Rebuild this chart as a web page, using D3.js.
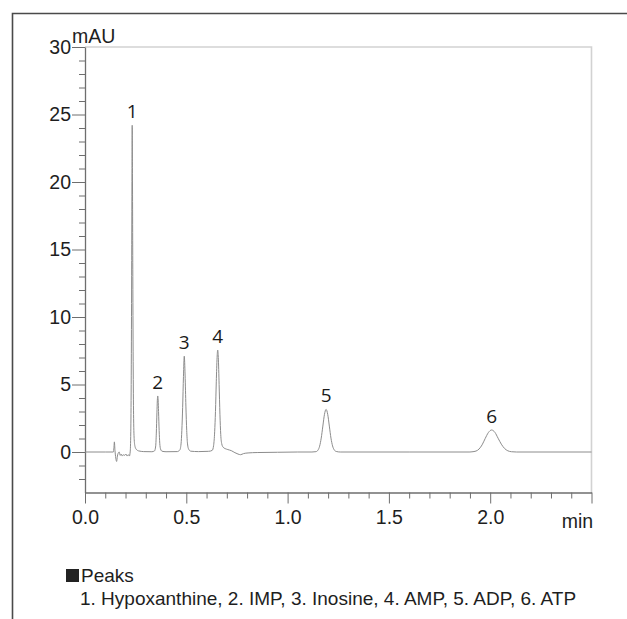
<!DOCTYPE html>
<html>
<head>
<meta charset="utf-8">
<script src="https://cdn.jsdelivr.net/npm/d3@7"></script>
<style>
  html, body { margin: 0; padding: 0; background: #fff; }
  svg { display: block; }
</style>
</head>
<body>
<svg id="chart" width="627" height="619"></svg>
<script>
// Chromatogram trace: [retention time (min), absorbance (mAU)]
const trace = [
  [0.000, 0.00], [0.100, 0.00], [0.140, 0.00], [0.143, 0.35], [0.145, 0.75],
  [0.148, 0.10], [0.152, -0.45], [0.156, -0.70], [0.160, -0.30], [0.165, -0.05],
  [0.169, 0.00], [0.174, -0.25], [0.179, -0.15], [0.184, -0.30], [0.190, -0.20],
  [0.196, -0.25], [0.202, -0.15], [0.208, -0.30], [0.214, -0.20], [0.219, -0.30],
  [0.223, 0.00], [0.226, 1.50], [0.228, 5.00], [0.230, 12.0], [0.232, 21.0],
  [0.233, 24.2], [0.234, 21.5], [0.236, 13.0], [0.238, 6.00], [0.240, 2.50],
  [0.243, 0.90], [0.247, 0.40], [0.253, 0.20], [0.265, 0.08], [0.290, 0.03],
  [0.330, 0.02], [0.343, 0.08], [0.349, 0.45], [0.352, 1.40], [0.355, 2.90],
  [0.357, 3.80], [0.359, 4.15], [0.361, 3.85], [0.363, 3.00], [0.366, 1.60],
  [0.369, 0.65], [0.373, 0.22], [0.380, 0.06], [0.400, 0.02], [0.455, 0.03],
  [0.468, 0.15], [0.474, 0.60], [0.478, 1.60], [0.482, 3.30], [0.486, 5.60],
  [0.490, 7.10], [0.494, 5.70], [0.498, 3.40], [0.502, 1.60], [0.506, 0.60],
  [0.512, 0.20], [0.522, 0.06], [0.560, 0.03], [0.610, 0.05], [0.628, 0.12],
  [0.635, 0.50], [0.640, 1.50], [0.644, 3.00], [0.648, 5.20], [0.652, 7.00],
  [0.655, 7.55], [0.658, 7.00], [0.662, 5.00], [0.666, 2.80], [0.670, 1.30],
  [0.675, 0.60], [0.682, 0.35], [0.692, 0.25], [0.705, 0.18], [0.722, 0.10],
  [0.740, -0.05], [0.755, -0.15], [0.768, -0.20], [0.782, -0.12], [0.805, -0.07],
  [0.850, -0.04], [0.950, -0.02], [1.050, 0.00], [1.120, 0.00], [1.140, 0.025],
  [1.150, 0.14], [1.158, 0.43], [1.166, 1.03], [1.174, 1.92], [1.182, 2.79],
  [1.190, 3.16], [1.198, 2.79], [1.206, 1.92], [1.214, 1.03], [1.222, 0.45],
  [1.230, 0.16], [1.240, 0.04], [1.260, 0.00], [1.600, 0.00], [1.900, 0.00],
  [1.910, 0.015], [1.930, 0.07], [1.945, 0.22], [1.960, 0.53], [1.975, 0.99],
  [1.991, 1.44], [2.007, 1.63], [2.023, 1.46], [2.039, 1.02], [2.055, 0.58],
  [2.071, 0.26], [2.087, 0.09], [2.105, 0.02], [2.130, 0.00], [2.500, 0.00]
];

// Peak annotations
const peakLabels  = ["1", "2", "3", "4", "5", "6"];
const peakTimes   = [0.233, 0.359, 0.490, 0.655, 1.190, 2.007];
const peakHeights = [24.2, 4.15, 7.10, 7.55, 3.16, 1.63];

// Axes
const xMajorTicks = [0.0, 0.5, 1.0, 1.5, 2.0, 2.5];
const xTickLabels = ["0.0", "0.5", "1.0", "1.5", "2.0", ""];
const yMajorTicks = [0, 5, 10, 15, 20, 25, 30];
const xDomain = [0, 2.5];
const yDomain = [-3, 30];
const xUnit = "min";
const yUnit = "mAU";

// Legend
const legendTitle = "Peaks";
const legendText = "1. Hypoxanthine, 2. IMP, 3. Inosine, 4. AMP, 5. ADP, 6. ATP";

const svg = d3.select("#chart");
const W = 627, H = 619;
const plot = { left: 85, right: 591.5, top: 47, bottom: 492.5 };

const x = d3.scaleLinear().domain(xDomain).range([plot.left, plot.right]);
const y = d3.scaleLinear().domain(yDomain).range([plot.bottom, plot.top]);

const textFont = '"Liberation Sans", Arial, sans-serif';
const tickFontSize = 19.5;
const axisColor = "#6e6e6e";

// Outer frame (top and left edges)
svg.append("path")
  .attr("d", `M12.5,${H} V13.5 H${W}`)
  .attr("fill", "none")
  .attr("stroke", "#4a4a4a")
  .attr("stroke-width", 1.6);

// Light plot box (top and right edges)
svg.append("path")
  .attr("d", `M${x(xDomain[0])},${y(yDomain[1])} H${x(xDomain[1])} V${y(yDomain[0])}`)
  .attr("fill", "none")
  .attr("stroke", "#d2d2d2")
  .attr("stroke-width", 1.6);

// Minor ticks
const yMinor = d3.range(yDomain[0] + 1, yDomain[1]).filter(v => v % 5 !== 0);
const xMinor = d3.range(1, 25).map(i => i / 10).filter(v => Math.abs(v * 2 - Math.round(v * 2)) > 1e-6);

svg.append("g")
  .attr("transform", `translate(${plot.left},0)`)
  .call(d3.axisLeft(y).tickValues(yMinor).tickSize(6).tickSizeOuter(0).tickFormat(""))
  .call(g => g.select(".domain").remove())
  .call(g => g.selectAll("line").attr("stroke", axisColor));

svg.append("g")
  .attr("transform", `translate(0,${plot.bottom})`)
  .call(d3.axisBottom(x).tickValues(xMinor).tickSize(6).tickSizeOuter(0).tickFormat(""))
  .call(g => g.select(".domain").remove())
  .call(g => g.selectAll("line").attr("stroke", axisColor));

// Major ticks with labels
function styleTickText(g) {
  g.selectAll(".tick text")
    .attr("font-family", textFont)
    .attr("font-size", tickFontSize)
    .attr("fill", "#1e1e1e");
}

svg.append("g")
  .attr("transform", `translate(${plot.left},0)`)
  .call(d3.axisLeft(y).tickValues(yMajorTicks).tickSize(13).tickPadding(1).tickSizeOuter(0).tickFormat(d3.format("d")))
  .call(g => g.select(".domain").attr("stroke", axisColor).attr("stroke-width", 1.3))
  .call(g => g.selectAll("line").attr("stroke", axisColor))
  .call(styleTickText);

svg.append("g")
  .attr("transform", `translate(0,${plot.bottom})`)
  .call(d3.axisBottom(x).tickValues(xMajorTicks).tickSize(11).tickPadding(7).tickSizeOuter(0)
    .tickFormat((d, i) => xTickLabels[i]))
  .call(g => g.select(".domain").attr("stroke", axisColor).attr("stroke-width", 1.3))
  .call(g => g.selectAll("line").attr("stroke", axisColor))
  .call(styleTickText);

// Axis units
svg.append("text")
  .attr("x", plot.left - 13)
  .attr("y", plot.top - 4)
  .attr("font-family", textFont)
  .attr("font-size", tickFontSize)
  .attr("fill", "#1e1e1e")
  .text(yUnit);

svg.append("text")
  .attr("x", x(xDomain[1]) - 14)
  .attr("y", plot.bottom + 35)
  .attr("text-anchor", "middle")
  .attr("font-family", textFont)
  .attr("font-size", tickFontSize)
  .attr("fill", "#1e1e1e")
  .text(xUnit);

// Chromatogram trace
const line = d3.line()
  .x(d => x(d[0]))
  .y(d => y(d[1]))
  .curve(d3.curveMonotoneX);

svg.append("path")
  .datum(trace)
  .attr("d", line)
  .attr("fill", "none")
  .attr("stroke", "#8c8c8c")
  .attr("stroke-width", 1)
  .attr("stroke-linejoin", "round");

// Peak numbers
svg.append("g")
  .selectAll("text")
  .data(peakLabels)
  .join("text")
  .attr("x", (d, i) => x(peakTimes[i]))
  .attr("y", (d, i) => y(peakHeights[i]) - 7)
  .attr("text-anchor", "middle")
  .attr("font-family", '"Open Sans", "Noto Sans", sans-serif')
  .attr("font-size", 19)
  .attr("fill", "#1a1a1a")
  .text(d => d);

// Legend
svg.append("rect")
  .attr("x", 66)
  .attr("y", 569)
  .attr("width", 13)
  .attr("height", 13)
  .attr("fill", "#222");

svg.append("text")
  .attr("x", 81)
  .attr("y", 582)
  .attr("font-family", textFont)
  .attr("font-size", 19)
  .attr("fill", "#1e1e1e")
  .text(legendTitle);

svg.append("text")
  .attr("x", 80)
  .attr("y", 605)
  .attr("font-family", textFont)
  .attr("font-size", 19)
  .attr("fill", "#1e1e1e")
  .text(legendText);
</script>
</body>
</html>
